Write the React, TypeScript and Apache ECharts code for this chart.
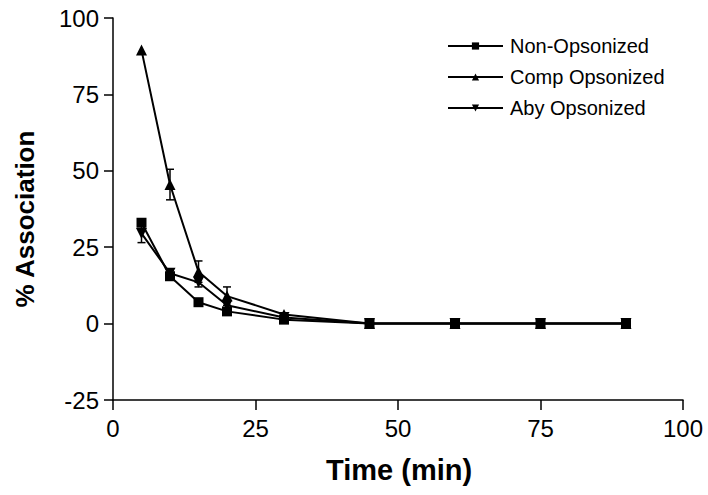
import React, { useEffect, useRef } from "react";
import * as echarts from "echarts";

// Sampling times (min)
const timePoints = [5, 10, 15, 20, 30, 45, 60, 75, 90];

// % association for each preparation
const nonOpsonized = [33, 15.5, 7, 4, 1.3, 0, 0, 0, 0];
const compOpsonized = [89.5, 45.5, 17, 9, 3, 0, 0, 0, 0];
const abyOpsonized = [29.5, 16.5, 13.5, 6, 2, 0, 0, 0, 0];

// Error (± SEM) per point
const nonErr = [1, 0.8, 0.5, 0.5, 0.3, 0, 0, 0, 0];
const compErr = [0, 5, 3.5, 3, 0.5, 0, 0, 0, 0];
const abyErr = [3, 1, 1.5, 1.5, 0.5, 0, 0, 0, 0];

const seriesNames = ["Non-Opsonized", "Comp Opsonized", "Aby Opsonized"];
const xTicks = [0, 25, 50, 75, 100];
const yTicks = [-25, 0, 25, 50, 75, 100];

const FONT = "'Liberation Sans', Arial, Helvetica, sans-serif";

function pairs(values: number[]) {
  return timePoints.map((t, i) => [t, values[i]]);
}

function errData(values: number[], err: number[]) {
  return timePoints
    .map((t, i) => [t, values[i] - err[i], values[i] + err[i]])
    .filter((d, i) => err[i] > 0);
}

function errorBarSeries(values: number[], err: number[]) {
  return {
    type: "custom",
    silent: true,
    z: 1,
    data: errData(values, err),
    encode: { x: 0, y: [1, 2] },
    renderItem: (params: any, api: any) => {
      const x = api.value(0);
      const lo = api.coord([x, api.value(1)]);
      const hi = api.coord([x, api.value(2)]);
      const w = 4;
      const style = { stroke: "#000", lineWidth: 1.5 };
      return {
        type: "group",
        children: [
          { type: "line", shape: { x1: lo[0], y1: lo[1], x2: hi[0], y2: hi[1] }, style },
          { type: "line", shape: { x1: lo[0] - w, y1: lo[1], x2: lo[0] + w, y2: lo[1] }, style },
          { type: "line", shape: { x1: hi[0] - w, y1: hi[1], x2: hi[0] + w, y2: hi[1] }, style },
        ],
      };
    },
  };
}

export default function App() {
  const ref = useRef<HTMLDivElement>(null);

  useEffect(() => {
    if (!ref.current) return;
    const chart = echarts.init(ref.current, undefined, { renderer: "svg" });
    const lineStyle = { color: "#000", width: 2 };
    chart.setOption({
      animation: false,
      backgroundColor: "#fff",
      textStyle: { fontFamily: FONT, color: "#000" },
      grid: { left: 113, right: 25, top: 18, bottom: 95, containLabel: false },
      legend: {
        orient: "vertical",
        left: 442,
        top: 31,
        itemWidth: 55,
        itemHeight: 9,
        itemGap: 11,
        data: seriesNames,
        textStyle: { fontFamily: FONT, fontSize: 20, color: "#000", lineHeight: 20, padding: [0, 0, 0, 2] },
      },
      xAxis: {
        type: "value",
        min: 0,
        max: 100,
        interval: 25,
        splitLine: { show: false },
        axisLine: { onZero: false, lineStyle: { color: "#000", width: 1.5 } },
        axisTick: { inside: false, length: 10, lineStyle: { color: "#000", width: 1.5 } },
        axisLabel: {
          fontSize: 24,
          color: "#000",
          margin: 16,
          fontFamily: FONT,
          formatter: (v: number) => (xTicks.includes(v) ? String(v) : ""),
        },
      },
      yAxis: {
        type: "value",
        min: -25,
        max: 100,
        interval: 25,
        splitLine: { show: false },
        axisLine: { onZero: false, lineStyle: { color: "#000", width: 1.5 } },
        axisTick: { inside: false, length: 9, lineStyle: { color: "#000", width: 1.5 } },
        axisLabel: {
          fontSize: 24,
          color: "#000",
          margin: 14,
          fontFamily: FONT,
          formatter: (v: number) => (yTicks.includes(v) ? String(v) : ""),
        },
      },
      graphic: [
        {
          type: "text",
          left: 326,
          top: 455,
          style: { text: "Time (min)", font: `bold 29px ${FONT}`, fill: "#000" },
        },
        {
          type: "text",
          x: 25,
          y: 219,
          rotation: Math.PI / 2,
          style: {
            text: "% Association",
            font: `bold 26px ${FONT}`,
            fill: "#000",
            align: "center",
            verticalAlign: "middle",
          },
        },
      ],
      series: [
        errorBarSeries(nonOpsonized, nonErr),
        errorBarSeries(compOpsonized, compErr),
        errorBarSeries(abyOpsonized, abyErr),
        {
          name: seriesNames[0],
          type: "line",
          data: pairs(nonOpsonized),
          symbol: "rect",
          symbolSize: 10,
          itemStyle: { color: "#000" },
          lineStyle,
          z: 3,
        },
        {
          name: seriesNames[1],
          type: "line",
          data: pairs(compOpsonized),
          symbol: "triangle",
          symbolSize: 11,
          itemStyle: { color: "#000" },
          lineStyle,
          z: 3,
        },
        {
          name: seriesNames[2],
          type: "line",
          data: pairs(abyOpsonized),
          symbol: "triangle",
          symbolRotate: 180,
          symbolSize: 11,
          itemStyle: { color: "#000" },
          lineStyle,
          z: 3,
        },
      ],
    });
    return () => chart.dispose();
  }, []);

  return <div ref={ref} style={{ width: 708, height: 495, position: "absolute", left: 0, top: 0 }} />;
}
